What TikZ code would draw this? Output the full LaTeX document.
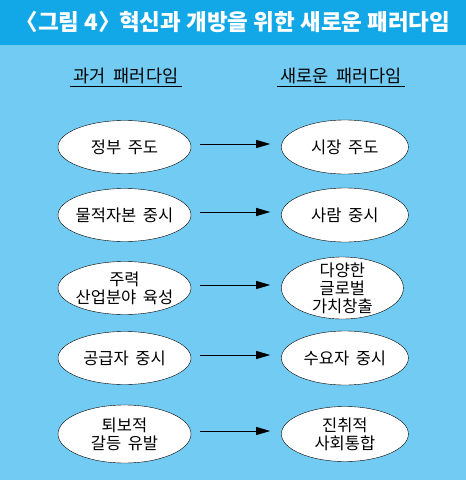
\documentclass[tikz,border=0pt]{standalone}
\usepackage{fontspec}
\setmainfont{Noto Sans CJK KR}
\usepackage{tikz}
\usetikzlibrary{shapes.geometric,arrows.meta,positioning}
\definecolor{bandblue}{RGB}{18,168,232}
\definecolor{skyblue}{RGB}{114,203,242}
\newcommand{\krfont}{\fontsize{16.5}{18}\selectfont\spaceskip=0.4em\relax}
\newcommand{\krhead}{\fontsize{17.5}{19}\selectfont\spaceskip=0.45em\relax}
\tikzset{
    oval/.style={ellipse, draw, thin, fill=white, inner sep=0pt, minimum width=133pt, minimum height=53pt},
    newoval/.style={oval, minimum width=127pt, minimum height=54pt},
    txt/.style={align=center, font=\krfont},
    head/.style={font=\krhead, inner xsep=4pt, inner ysep=2.5pt},
    uline/.style={line width=0.8pt},
    flow/.style={-{Triangle[length=14pt,width=8pt]}, line width=0.8pt, shorten <=9pt, shorten >=11pt},
}

\begin{document}
\begin{tikzpicture}[x=1pt, y=-1pt, node distance=90pt]
    \useasboundingbox (0,0) rectangle (466,480);
    \fill[skyblue] (0,0) rectangle (466,480);
    \fill[bandblue] (0,0) rectangle (466,45);
    \node[text=white, font=\fontsize{22.5}{26}\selectfont\bfseries] (title) at (233,22) {〈그림 4〉\kern-0.3em{} 혁신과 개방을 위한 새로운 패러다임};

    \node[head] (hold) at (126,76) {과거 패러다임};
    \node[head] (hnew) at (341,76) {새로운 패러다임};
    \draw[uline] (hold.south west) -- (hold.south east);
    \draw[uline] (hnew.south west) -- (hnew.south east);

    % left column
    \node[oval, label={[txt]center:정부 주도}] (p1) at (124.5,147) {};
    \node[oval, label={[txt]center:물적자본 중시}] (p2) at (124.5,215) {};
    \node[oval, label={[txt]center:주력\\산업분야 육성}] (p3) at (124.5,288) {};
    \node[oval, label={[txt]center:공급자 중시}] (p4) at (124.5,358) {};
    \node[oval, minimum height=58pt, label={[txt]center:퇴보적\\갈등 유발}] (p5) at (124.5,434) {};

    % right column
    \node[newoval, right=of p1, label={[txt]center:시장 주도}] (n1) {};
    \node[newoval, right=of p2, label={[txt]center:사람 중시}] (n2) {};
    \node[newoval, right=of p3, minimum width=122pt, minimum height=62pt, label={[txt]center:다양한\\글로벌\\가치창출}] (n3) {};
    \node[newoval, right=of p4, label={[txt]center:수요자 중시}] (n4) {};
    \node[newoval, right=of p5, minimum height=55pt, label={[txt]center:진취적\\사회통합}] (n5) {};

    \foreach \i in {1,...,5} \draw[flow] ([yshift=3pt]p\i.east) -- ([yshift=3pt]n\i.west);
\end{tikzpicture}
\end{document}
